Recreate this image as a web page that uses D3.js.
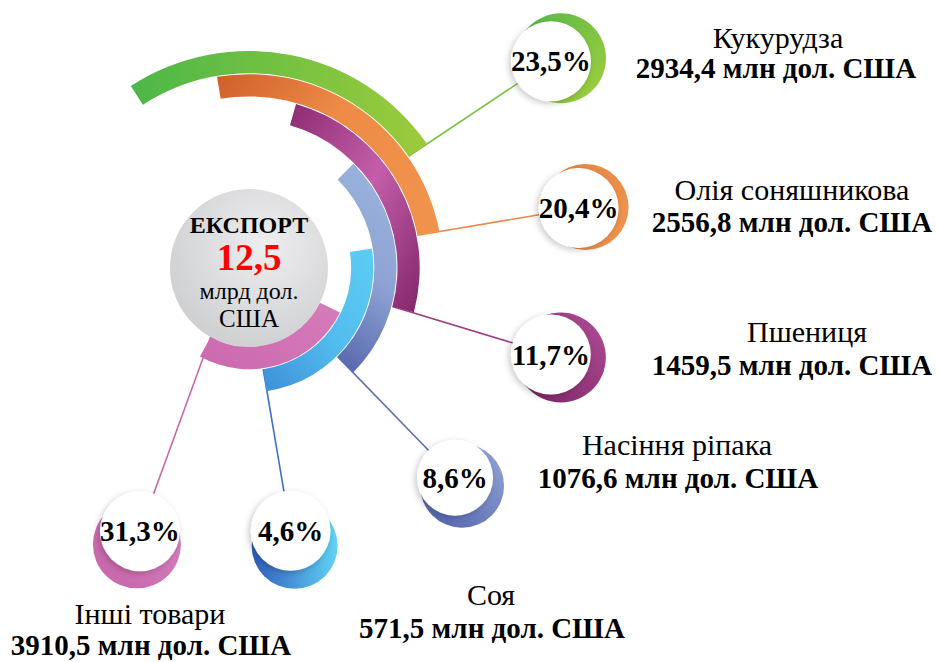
<!DOCTYPE html>
<html><head><meta charset="utf-8">
<script src="https://cdn.jsdelivr.net/npm/d3@7"></script>
<style>
body{margin:0;background:#fff}
svg{display:block}
text{font-family:"Liberation Serif","Tinos","Times New Roman","Times","DejaVu Serif","Noto Serif",serif;fill:#000}
</style>
</head><body>
<svg id="chart" width="938" height="662"></svg>
<script>
// ---------- DATA ----------
const categories = ["Кукурудза", "Олія соняшникова", "Пшениця", "Насіння ріпака", "Соя", "Інші товари"];
const valuesMln  = [2934.4, 2556.8, 1459.5, 1076.6, 571.5, 3910.5];
const sharePct   = [23.5, 20.4, 11.7, 8.6, 4.6, 31.3];
const totalBln   = 12.5;
const centerTitle = "ЕКСПОРТ";
const centerUnit  = ["млрд дол.", "США"];
const unitLabel   = "млн дол. США";

// ---------- LAYOUT / STYLE (not data) ----------
const FONT = "'Liberation Serif','Tinos','Times New Roman','Times','DejaVu Serif','Noto Serif',serif";
const cx = 249, cy = 268, coreR = 79, ringOuter = 217;
const arcSpanDeg  = [[-33, 55], [-9.5, 79], [16, 105], [45, 135], [81, 172], [116, 209]];
const bubblePolar = [[55.6, 366], [79.7, 335], [106, 314], [135.5, 294], [171, 266], [202.5, 285]];
const bubbleR     = [40, 40, 40, 38, 40, 40];
const crescent    = [[10, -3, 45], [7, -1, 43], [10, 3, 45], [7, 8, 42], [4, 15, 43], [-3, 13, 44]];
const namePos     = [[778, 48], [792, 200], [807, 342], [677, 455], [491, 605], [150, 624]];
const valuePos    = [[776, 78], [792, 232], [792, 375], [678, 488], [492, 638], [151, 655]];
const arcGrad = [
  {c:["#4cb748","#9ccb3b"], v:[0,0.5,1,0.5]},
  {c:["#cf5f2a","#ee8b47","#f0924b"], v:[0,0,1,0.6]},
  {c:["#8e2b72","#c45eaa","#82266a"], v:[0,0,1,1]},
  {c:["#9ab3dd","#8ea3d4","#5b6ab0"], v:[0.5,0,0.3,1]},
  {c:["#5ccdf3","#52bcee","#3f8fd9"], v:[1,0,0,1]},
  {c:["#d67cba","#cd6bb0"], v:[1,0,0,0.6]}
];
const crescGrad = [
  {c:["#55b748","#a4cf3e"], v:[0,0,1,1]},
  {c:["#e5853f","#f09550"], v:[0,0,1,1]},
  {c:["#b04d98","#7c2362"], v:[1,0,0,1]},
  {c:["#95a8d8","#4f5ea9"], v:[1,0,0,1]},
  {c:["#2f5cbc","#62d3f6"], v:[0,0.5,1,0.5]},
  {c:["#d987c2","#c662a8"], v:[1,0,0,1]}
];
const lineColor = ["#7cc142", "#ee8a45", "#a03a80", "#6070b3", "#3f6fc3", "#c86aa8"];

const fmt = v => d3.format(".1f")(v).replace(".", ",");

const svg = d3.select("#chart").attr("font-family", FONT);
const defs = svg.append("defs");

function linGrad(id, g) {
  const lg = defs.append("linearGradient").attr("id", id)
    .attr("x1", g.v[0]).attr("y1", g.v[1]).attr("x2", g.v[2]).attr("y2", g.v[3]);
  g.c.forEach((col, i) => lg.append("stop").attr("offset", i / (g.c.length - 1)).attr("stop-color", col));
}
categories.forEach((c, i) => { linGrad("ag" + i, arcGrad[i]); linGrad("cg" + i, crescGrad[i]); });

const rg = defs.append("radialGradient").attr("id", "core").attr("cx", 0.6).attr("cy", 0.35).attr("r", 0.75);
rg.append("stop").attr("offset", 0).attr("stop-color", "#eeeeef");
rg.append("stop").attr("offset", 1).attr("stop-color", "#cbccce");

const sh = defs.append("filter").attr("id", "shadow").attr("x", "-30%").attr("y", "-30%").attr("width", "160%").attr("height", "160%");
sh.append("feDropShadow").attr("dx", -2).attr("dy", 2).attr("stdDeviation", 3).attr("flood-color", "#000").attr("flood-opacity", 0.22);

// scales
const deg = d3.scaleLinear().domain([0, 360]).range([0, 2 * Math.PI]);
const ring = d3.scaleBand().domain(categories.slice().reverse()).range([coreR, ringOuter]).paddingInner(0.04);
const arcGen = d3.arc();

const g = svg.append("g").attr("transform", `translate(${cx},${cy})`);
const polar = (a, r) => [r * Math.sin(deg(a)), -r * Math.cos(deg(a))];

const items = categories.map((c, i) => {
  const [bx, by] = polar(bubblePolar[i][0], bubblePolar[i][1]);
  return { i, name: c, value: valuesMln[i], share: sharePct[i],
    r0: ring(c), r1: ring(c) + ring.bandwidth(),
    a0: arcSpanDeg[i][0], a1: arcSpanDeg[i][1], bx, by };
});

// connector lines (under arcs)
g.selectAll("line.conn").data(items).join("line").attr("class", "conn")
  .attr("x1", d => polar(d.a1, d.r0)[0]).attr("y1", d => polar(d.a1, d.r0)[1])
  .attr("x2", d => d.bx).attr("y2", d => d.by)
  .attr("stroke", d => lineColor[d.i]).attr("stroke-width", 1.6);

// core circle
g.append("circle").attr("r", coreR).attr("fill", "url(#core)");

// arcs
g.selectAll("path.ring").data(items).join("path").attr("class", "ring")
  .attr("d", d => arcGen({ innerRadius: d.r0, outerRadius: d.r1, startAngle: deg(d.a0), endAngle: deg(d.a1) }))
  .attr("fill", d => `url(#ag${d.i})`);

// center text
g.append("text").attr("text-anchor", "middle").attr("y", -35).attr("font-size", 24).attr("font-weight", "bold").text(centerTitle);
g.append("text").attr("text-anchor", "middle").attr("y", 2).attr("font-size", 37).attr("font-weight", "bold")
  .style("fill", "#ff0000").text(fmt(totalBln));
g.append("text").attr("text-anchor", "middle").attr("y", 31).attr("font-size", 24).text(centerUnit[0]);
g.append("text").attr("text-anchor", "middle").attr("y", 59).attr("font-size", 25).text(centerUnit[1]);

// bubbles
const b = g.selectAll("g.bub").data(items).join("g").attr("class", "bub")
  .attr("transform", d => `translate(${d.bx},${d.by})`);
b.append("circle").attr("cx", d => crescent[d.i][0]).attr("cy", d => crescent[d.i][1]).attr("r", d => crescent[d.i][2])
  .attr("fill", d => `url(#cg${d.i})`);
b.append("circle").attr("r", d => bubbleR[d.i]).attr("fill", "#fff").attr("filter", "url(#shadow)");
b.append("text").attr("text-anchor", "middle").attr("y", 10).attr("font-size", 29).attr("font-weight", "bold")
  .text(d => fmt(d.share) + "%");

// labels
svg.selectAll("text.name").data(items).join("text").attr("class", "name")
  .attr("x", d => namePos[d.i][0]).attr("y", d => namePos[d.i][1])
  .attr("text-anchor", "middle").attr("font-size", 30).text(d => d.name);
svg.selectAll("text.val").data(items).join("text").attr("class", "val")
  .attr("x", d => valuePos[d.i][0]).attr("y", d => valuePos[d.i][1])
  .attr("text-anchor", "middle").attr("font-size", 29).attr("font-weight", "bold")
  .text(d => fmt(d.value) + " " + unitLabel);
</script>
</body></html>
